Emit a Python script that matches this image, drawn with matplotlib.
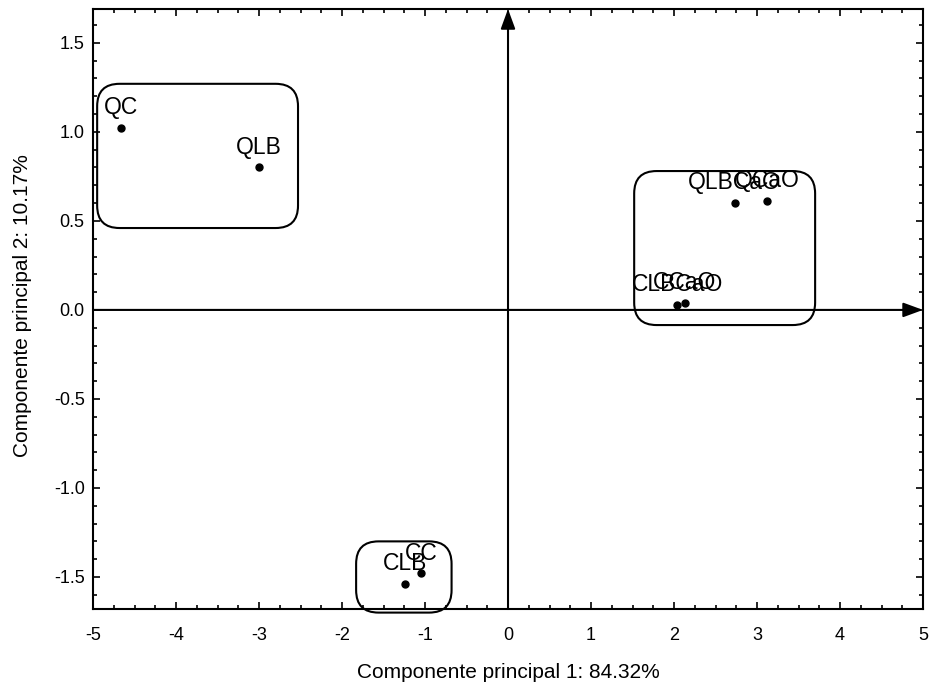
import matplotlib
matplotlib.use("Agg")
import matplotlib.pyplot as plt
from matplotlib.patches import FancyBboxPatch
from matplotlib.ticker import MultipleLocator, FormatStrFormatter

plt.rcParams['font.family'] = ['Liberation Sans', 'DejaVu Sans']
plt.rcParams['axes.unicode_minus'] = False

# PCA scores (component 1, component 2)
labels = ["QC", "QLB", "QLBCaO", "QCaO", "CLBCaO", "CCaO", "CLB", "CC"]
pc1 = [-4.66, -3.00, 2.73, 3.12, 2.04, 2.13, -1.24, -1.05]
pc2 = [1.02, 0.80, 0.60, 0.61, 0.03, 0.04, -1.54, -1.48]

# Group outlines: (x0, y0, x1, y1)
group_x0 = [-4.95, 1.52, -1.83]
group_y0 = [0.46, -0.085, -1.70]
group_x1 = [-2.53, 3.70, -0.68]
group_y1 = [1.27, 0.78, -1.30]

xlim = (-5, 5)
ylim = (-1.68, 1.69)
xticks = [-5, -4, -3, -2, -1, 0, 1, 2, 3, 4, 5]
yticks = [-1.5, -1.0, -0.5, 0.0, 0.5, 1.0, 1.5]

fig = plt.figure(figsize=(9.3, 6.84), dpi=100)
ax = fig.add_axes([0.1, 0.1096, 0.8925, 0.8772])
ax.set_xlim(*xlim)
ax.set_ylim(*ylim)

# Axis arrows through the origin
arrow_kw = dict(arrowstyle="-|>,head_length=0.6,head_width=0.22",
                mutation_scale=20, color="black", lw=1.5,
                shrinkA=0, shrinkB=0)
ax.annotate("", xy=(xlim[1], 0), xytext=(xlim[0], 0), arrowprops=arrow_kw,
            annotation_clip=False)
ax.annotate("", xy=(0, ylim[1]), xytext=(0, ylim[0]), arrowprops=arrow_kw,
            annotation_clip=False)

ax.plot(pc1, pc2, "o", color="black", markersize=5, zorder=4)
for lab, x, y in zip(labels, pc1, pc2):
    ax.annotate(lab, (x, y), xytext=(0, 10), textcoords="offset points",
                ha="center", va="baseline", fontsize=16.5, zorder=5)

# Rounded group outlines; aspect corrects for unequal axis scales
aspect = ((ylim[1] - ylim[0]) / 600.0) / ((xlim[1] - xlim[0]) / 830.0)
for x0, y0, x1, y1 in zip(group_x0, group_y0, group_x1, group_y1):
    box = FancyBboxPatch((x0, y0), x1 - x0, y1 - y0,
                         boxstyle="round,pad=0,rounding_size=0.27",
                         mutation_aspect=aspect, fill=False,
                         edgecolor="black", lw=1.5, clip_on=False, zorder=3)
    ax.add_patch(box)

ax.set_xticks(xticks)
ax.set_yticks(yticks)
ax.yaxis.set_major_formatter(FormatStrFormatter("%.1f"))
ax.xaxis.set_minor_locator(MultipleLocator(0.25))
ax.yaxis.set_minor_locator(MultipleLocator(0.1))
ax.tick_params(which="both", direction="in", top=True, right=True,
               width=1.2, labelsize=13)
ax.tick_params(axis="x", which="both", pad=13)
ax.tick_params(axis="y", which="both", pad=6)
ax.tick_params(which="major", length=5)
ax.tick_params(which="minor", length=3)
for s in ax.spines.values():
    s.set_linewidth(1.5)

ax.set_xlabel("Componente principal 1: 84.32%", fontsize=15)
ax.set_ylabel("Componente principal 2: 10.17%", fontsize=15)
ax.xaxis.set_label_coords(0.501, -0.09)
ax.yaxis.set_label_coords(-0.073, 0.505)

fig.savefig("out.png", dpi=100)
